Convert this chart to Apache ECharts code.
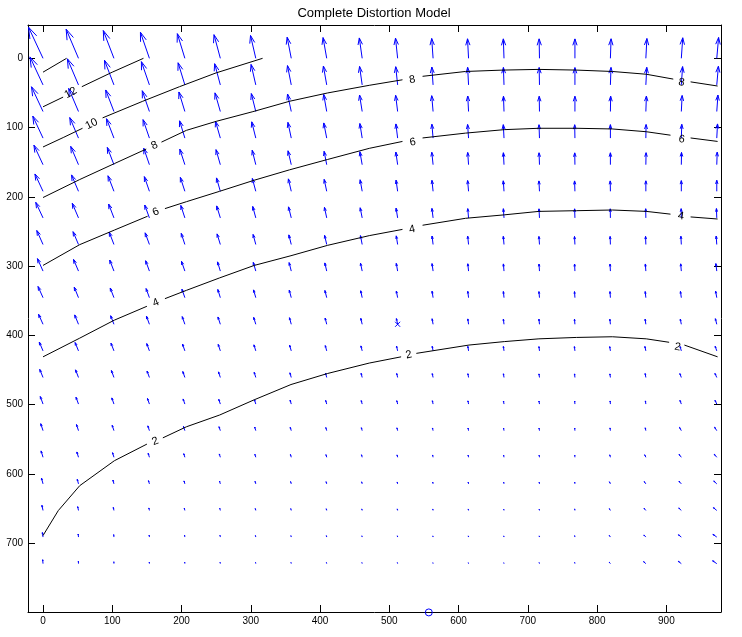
<!DOCTYPE html>
<html><head><meta charset="utf-8">
<script src="https://cdn.jsdelivr.net/npm/echarts@6/dist/echarts.min.js"></script>
<style>html,body{margin:0;padding:0;background:#fff}#c{width:742px;height:637px}</style>
</head><body><div id="c"></div>
<script>
const titleText = 'Complete Distortion Model';
const xTicks = [0,100,200,300,400,500,600,700,800,900];
const yTicks = [0,100,200,300,400,500,600,700];
// sample grid of the quiver (image pixels)
const gridX = [0,51.2,102.4,153.6,204.8,256,307.2,358.4,409.6,460.8,512,563.2,614.4,665.6,716.8,768,819.2,870.4,921.6,972.8];
const gridY = [0,38.4,76.8,115.2,153.6,192,230.4,268.8,307.2,345.6,384,422.4,460.8,499.2,537.6,576,614.4,652.8,691.2,729.6];
// displayed arrow length (in axis units), one row per gridY
const arrowLen = [
 [49.6,45.6,42.9,39.8,37.2,35.3,33.8,31.0,30.4,29.7,29.3,28.7,28.2,28.1,28.1,28.0,28.2,28.6,29.7,30.2],
 [44.6,40.9,38.1,35.5,33.4,31.7,30.3,28.4,27.7,26.9,26.4,25.8,25.4,25.2,25.1,25.0,25.2,25.4,26.5,27.0],
 [39.4,36.2,33.3,31.7,29.5,28.0,26.7,25.8,25.0,24.1,23.5,22.9,22.4,22.1,22.0,22.0,22.1,22.3,23.1,23.8],
 [35.0,32.2,30.0,28.2,26.1,25.2,24.2,23.2,22.3,21.3,20.6,20.1,19.7,19.4,19.3,19.3,19.4,19.6,19.9,20.5],
 [31.1,28.7,26.7,25.1,23.6,22.6,21.5,20.6,19.7,18.9,18.4,18.0,17.7,17.3,17.2,17.1,17.2,17.3,17.7,18.1],
 [27.6,25.7,24.0,22.4,21.1,20.1,19.2,18.4,17.6,16.9,16.3,15.9,15.6,15.2,15.0,15.0,15.0,15.1,15.4,15.9],
 [24.8,22.9,21.4,19.8,18.9,18.1,17.1,16.4,15.6,14.9,14.3,13.8,13.4,13.3,13.1,13.1,13.1,13.2,13.3,13.5],
 [22.1,20.1,19.0,17.9,16.9,16.0,15.0,14.3,13.5,13.0,12.6,12.3,12.1,11.8,11.6,11.6,11.6,11.7,11.9,12.2],
 [19.7,18.3,17.1,15.9,14.9,13.9,13.1,12.6,12.1,11.6,11.3,10.9,10.6,10.4,10.2,10.2,10.2,10.3,10.5,10.9],
 [17.7,16.4,15.0,14.0,13.0,12.4,11.7,11.2,10.7,10.2,9.8,9.5,9.2,9.0,8.8,8.8,8.8,8.9,9.1,9.5],
 [15.8,14.6,13.2,12.5,11.7,11.1,10.4,9.8,9.3,8.8,8.4,8.1,7.8,7.6,7.5,7.4,7.4,7.5,7.7,8.3],
 [13.9,13.0,11.9,11.2,10.5,9.8,9.1,8.5,7.9,7.4,7.1,6.7,6.5,6.4,6.2,6.2,6.2,6.5,6.5,7.0],
 [12.6,11.8,10.7,9.9,9.1,8.5,7.8,7.0,6.5,6.2,5.9,5.7,5.5,5.4,5.2,5.2,5.2,5.8,6.0,6.4],
 [11.6,10.5,9.4,8.6,7.8,7.2,6.5,6.0,5.5,5.2,5.0,4.9,4.7,4.5,4.4,4.4,4.5,4.6,5.7,6.0],
 [10.6,9.3,8.1,7.3,6.5,6.0,5.5,5.0,4.7,4.4,4.2,4.0,3.9,3.7,3.7,3.7,4.0,4.2,5.4,5.9],
 [9.6,8.0,6.9,6.0,5.4,5.0,4.5,4.2,3.9,3.7,3.5,3.4,3.2,3.0,3.0,3.0,3.6,4.0,5.2,5.7],
 [8.6,6.8,5.7,4.8,4.4,4.0,3.7,3.4,3.2,3.0,2.8,2.7,2.7,2.5,2.5,2.6,3.3,4.0,5.0,6.0],
 [7.6,5.6,4.5,3.7,3.4,3.2,2.8,2.7,2.5,2.3,2.3,2.2,2.2,2.0,2.0,2.3,3.0,4.0,5.1,6.3],
 [6.6,4.4,3.5,2.8,2.7,2.5,2.2,2.0,2.0,1.8,1.8,1.7,1.7,1.7,1.7,2.0,2.8,4.2,5.3,6.8],
 [5.7,3.4,2.7,2.3,2.2,2.0,1.8,1.7,1.7,1.5,1.5,1.3,1.3,1.3,1.5,1.8,2.7,4.4,5.5,7.3]
];
// arrow lean from vertical in degrees (positive = head to the left), arrows point up
const arrowAngle = [
 [25,23,21,19,17,15,13,11,10,8,6,4,3,2,1,0,-2,-3,-4,-5],
 [25,23,21,19,17,15,13,11,10,8,6,4,3,2,1,0,-2,-3,-4,-5],
 [25,23,21,19,17,16,14,12,10,9,7,5,3,2,1,0,-1,-2,-3,-4],
 [25,23,21,19,17,16,14,12,11,9,7,5,4,3,2,1,0,-1,-2,-3],
 [25,23,21,19,18,16,14,13,11,10,8,6,4,3,2,1,0,-1,-1,-2],
 [25,23,21,19,18,16,15,13,12,10,8,6,5,4,3,2,1,0,0,0],
 [25,23,21,20,18,17,15,14,12,11,9,7,5,4,3,2,1,1,1,2],
 [24,23,21,20,18,17,15,14,13,11,9,7,6,5,4,3,2,2,3,4],
 [24,23,21,20,19,17,16,14,13,12,10,8,6,5,4,3,3,4,5,7],
 [24,22,21,20,19,17,16,15,14,12,11,9,7,6,5,4,4,6,8,10],
 [24,22,21,20,19,18,17,15,14,13,12,10,8,7,6,5,6,8,11,14],
 [23,22,21,20,19,18,17,16,15,14,13,11,9,8,7,7,9,12,15,19],
 [22,21,20,20,19,18,17,16,15,14,13,12,10,9,8,6,8,10,20,24],
 [20,20,19,19,19,18,17,16,16,15,14,12,11,10,10,5,5,8,20,25],
 [18,18,18,18,18,18,17,17,16,15,14,13,11,10,10,5,8,12,28,32],
 [17,17,17,17,17,17,17,16,16,15,14,13,12,11,10,5,15,25,38,40],
 [15,15,15,16,16,16,16,16,16,15,14,13,12,12,10,8,25,35,42,46],
 [12,12,12,13,14,15,15,15,15,15,14,13,13,14,12,10,30,40,46,50],
 [8,6,6,8,10,12,13,14,14,14,14,13,13,15,14,12,35,45,52,55],
 [5,3,3,5,8,10,12,13,14,14,14,13,14,17,16,14,38,48,52,55]
];
// contour lines (null = gap left for a label)
const contour14 = [[0,20],[34,0]];
const contour12 = [[0,70],[29,56],null,[56,41],[100,20],[145,0]];
const contour10 = [[0,128],[30,114],[57,101],null,[86,86],[144,62],[197,41],[250,21],[317,0]];
const contour8 = [[0,201],[53,175],[103,152],[149,131],null,[171,121],[207,104],[250,91],[303,77],[356,62],[411,50],[471,39],[519,31],null,[548,26],[610,19],[664,17],[716,16],[770,17],[822,19],[871,23],[910,30],null,[935,34],[974,40]];
const contour6 = [[0,299],[53,269],[103,248],[151,228],null,[176,217],[207,207],[255,192],[305,176],[356,161],[411,146],[471,130],[519,120],null,[548,115],[610,108],[666,103],[716,101],[770,101],[822,102],[871,106],[906,111],null,[935,115],[974,120]];
const contour4 = [[0,431],[53,404],[103,378],[150,358],null,[176,347],[207,335],[255,317],[305,299],[358,285],[411,270],[471,256],[519,247],null,[548,241],[610,231],[666,226],[716,221],[770,220],[822,219],[871,221],[906,225],null,[935,229],[974,232]];
const contour2 = [[0,689],[22,653],[53,617],[103,581],[150,557],null,[173,548],[207,532],[255,515],[305,493],[358,471],[411,455],[471,440],[517,431],null,[539,426],[615,414],[666,409],[716,405],[770,403],[822,402],[871,405],[904,410],null,[926,414],[974,431]];
const contourLevels = [14,12,10,8,6,4,2];
const contourLines = [contour14,contour12,contour10,contour8,contour6,contour4,contour2];
// contour labels
const labelText = ['12','10','8','6','4','2','8','6','4','2','8','6','4','2'];
const labelLevel = [12,10,8,6,4,2,8,6,4,2,8,6,4,2];
const labelX = [40,70,161,163,163,162,533,534,533,528,922,922,921,916];
const labelY = [50,95,126,222,353,553,31,121,247,428,35,117,228,417];
const imageCenter = [512,384];
const principalPoint = [557,800];

const FONT = '"Liberation Sans", Arial, sans-serif';
const chart = echarts.init(document.getElementById('c'), null, {renderer:'canvas'});

const arrowData = [];
for (let r = 0; r < gridY.length; r++)
  for (let c = 0; c < gridX.length; c++)
    arrowData.push([gridX[c], gridY[r], arrowLen[r][c], arrowAngle[r][c]]);

function segmentsOf(line) {
  const segs = []; let cur = [];
  line.forEach(p => { if (p === null) { if (cur.length) segs.push(cur); cur = []; } else cur.push(p); });
  if (cur.length) segs.push(cur);
  return segs;
}
const contourSeries = [];
contourLines.forEach(line => {
  segmentsOf(line).forEach(seg => {
    contourSeries.push({
      type:'line', data: seg, symbol:'none', silent:true, animation:false, z:3,
      lineStyle:{color:'#000', width:1}, clip:false
    });
  });
});

const labelData = labelText.map((t,i) => [labelX[i], labelY[i], labelLevel[i], i]);

const axisCommon = {
  type:'value', splitLine:{show:false},
  axisLine:{show:true, onZero:false, lineStyle:{color:'#000', width:1}},
};

chart.setOption({
  animation:false,
  backgroundColor:'#fff',
  graphic:[{type:'text', x:374, y:13, style:{text:titleText, font:'13px '+FONT, fill:'#000', align:'center', verticalAlign:'middle'}}],
  grid:{left:28, top:25, width:693, height:587, containLabel:false},
  xAxis:[
    Object.assign({}, axisCommon, {position:'bottom', min:-21.7, max:978.9,
      axisTick:{show:true, inside:true, length:7, customValues:xTicks, lineStyle:{color:'#000'}},
      axisLabel:{show:true, customValues:xTicks, margin:4, color:'#000', fontSize:10, fontFamily:FONT}}),
    Object.assign({}, axisCommon, {position:'top', min:-21.7, max:978.9,
      axisTick:{show:true, inside:true, length:7, customValues:xTicks, lineStyle:{color:'#000'}},
      axisLabel:{show:false}})
  ],
  yAxis:[
    Object.assign({}, axisCommon, {position:'left', inverse:true, min:-48.1, max:799.4,
      axisTick:{show:true, inside:true, length:7, customValues:yTicks, lineStyle:{color:'#000'}},
      axisLabel:{show:true, customValues:yTicks, margin:5, color:'#000', fontSize:10, fontFamily:FONT}}),
    Object.assign({}, axisCommon, {position:'right', inverse:true, min:-48.1, max:799.4,
      axisTick:{show:true, inside:true, length:7, customValues:yTicks, lineStyle:{color:'#000'}},
      axisLabel:{show:false}})
  ],
  series:[
    {
      type:'custom', silent:true, animation:false, clip:false, z:2,
      data: arrowData, encode:{x:0, y:1},
      renderItem(params, api) {
        const x = api.value(0), y = api.value(1), L = api.value(2), a = api.value(3) * Math.PI / 180;
        const p0 = api.coord([x, y]);
        const p1 = api.coord([x - L * Math.sin(a), y - L * Math.cos(a)]);
        const u = p1[0] - p0[0], v = p1[1] - p0[1];
        const al = 0.33, be = 0.33;
        const b1 = [p1[0] - al * (u + be * v), p1[1] - al * (v - be * u)];
        const b2 = [p1[0] - al * (u - be * v), p1[1] - al * (v + be * u)];
        const st = {stroke:'#0000ff', lineWidth:1, fill:null};
        return {type:'group', children:[
          {type:'polyline', shape:{points:[p0, p1]}, style:st},
          {type:'polyline', shape:{points:[b1, p1, b2]}, style:st}
        ]};
      }
    },
    ...contourSeries,
    {
      type:'custom', silent:true, animation:false, clip:false, z:4,
      data: labelData, encode:{x:0, y:1},
      renderItem(params, api) {
        const lx = api.value(0), ly = api.value(1), lev = api.value(2), idx = api.value(3);
        const line = contourLines[contourLevels.indexOf(lev)].filter(p => p !== null);
        let pa = line[0], pb = line[line.length - 1];
        for (let k = 0; k < line.length - 1; k++) {
          if (line[k][0] <= lx && line[k+1][0] >= lx) { pa = line[k]; pb = line[k+1]; break; }
        }
        const ca = api.coord(pa), cb = api.coord(pb);
        const rot = -Math.atan2(cb[1] - ca[1], cb[0] - ca[0]);
        const pos = api.coord([lx, ly]);
        return {type:'text', x:pos[0], y:pos[1], rotation:rot,
          style:{text:labelText[idx], x:0, y:0, font:'11px '+FONT, fill:'#000', align:'center', verticalAlign:'middle'}};
      }
    },
    {
      type:'custom', silent:true, animation:false, clip:false, z:5,
      data:[[imageCenter[0], imageCenter[1], 0], [principalPoint[0], principalPoint[1], 1]], encode:{x:0, y:1},
      renderItem(params, api) {
        const p = api.coord([api.value(0), api.value(1)]);
        const st = {stroke:'#0000ff', lineWidth:1, fill:null};
        if (api.value(2) === 0) {
          const s = 2.5;
          return {type:'group', children:[
            {type:'line', shape:{x1:p[0]-s, y1:p[1]-s, x2:p[0]+s, y2:p[1]+s}, style:st},
            {type:'line', shape:{x1:p[0]-s, y1:p[1]+s, x2:p[0]+s, y2:p[1]-s}, style:st}
          ]};
        }
        return {type:'circle', shape:{cx:p[0], cy:p[1], r:3.5}, style:st};
      }
    }
  ]
});
</script>
</body></html>
